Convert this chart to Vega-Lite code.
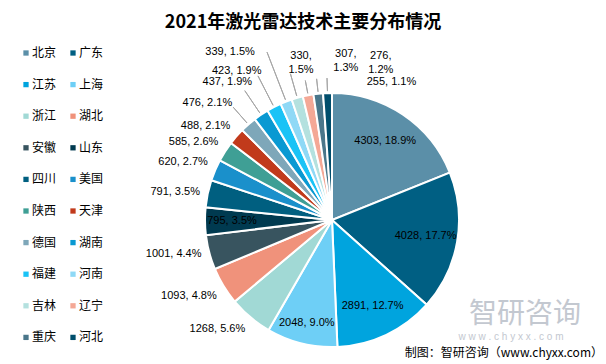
{
  "$schema": "https://vega.github.io/schema/vega-lite/v6.json",
  "width": 548,
  "height": 288,
  "autosize": {"type": "none"},
  "padding": {"left": 58, "top": 76, "right": 0, "bottom": 0},
  "background": "#ffffff",
  "title": {
    "text": "2021年激光雷达技术主要分布情况",
    "font": "Noto Sans CJK SC",
    "fontSize": 18,
    "fontWeight": "bold",
    "color": "#000000",
    "anchor": "middle",
    "frame": "group",
    "dx": -29,
    "offset": 4
  },
  "config": {"view": {"stroke": null}},
  "layer": [
    {
      "data": {
        "values": [
          {"name": "北京", "value": 4303, "label": "4303, 18.9%"},
          {"name": "广东", "value": 4028, "label": "4028, 17.7%"},
          {"name": "江苏", "value": 2891, "label": "2891, 12.7%"},
          {"name": "上海", "value": 2048, "label": "2048, 9.0%"},
          {"name": "浙江", "value": 1268, "label": "1268, 5.6%"},
          {"name": "湖北", "value": 1093, "label": "1093, 4.8%"},
          {"name": "安徽", "value": 1001, "label": "1001, 4.4%"},
          {"name": "山东", "value": 795, "label": "795, 3.5%"},
          {"name": "四川", "value": 791, "label": "791, 3.5%"},
          {"name": "美国", "value": 620, "label": "620, 2.7%"},
          {"name": "陕西", "value": 585, "label": "585, 2.6%"},
          {"name": "天津", "value": 488, "label": "488, 2.1%"},
          {"name": "德国", "value": 476, "label": "476, 2.1%"},
          {"name": "湖南", "value": 437, "label": "437, 1.9%"},
          {"name": "福建", "value": 423, "label": "423, 1.9%"},
          {"name": "河南", "value": 339, "label": "339, 1.5%"},
          {"name": "吉林", "value": 330, "label": "330, 1.5%"},
          {"name": "辽宁", "value": 307, "label": "307, 1.3%"},
          {"name": "重庆", "value": 276, "label": "276, 1.2%"},
          {"name": "河北", "value": 255, "label": "255, 1.1%"}
        ]
      },
      "encoding": {
        "theta": {"field": "value", "type": "quantitative", "stack": true},
        "order": {"field": "value", "type": "quantitative", "sort": "descending"},
        "detail": {"field": "name", "type": "nominal"}
      },
      "layer": [
        {
          "mark": {"type": "arc", "outerRadius": 127, "stroke": "#ffffff", "strokeWidth": 2},
          "encoding": {
            "color": {
              "field": "name",
              "type": "nominal",
              "scale": {
                "domain": ["北京","广东","江苏","上海","浙江","湖北","安徽","山东","四川","美国","陕西","天津","德国","湖南","福建","河南","吉林","辽宁","重庆","河北"],
                "range": ["#5B8FA8","#005F83","#00A4DE","#6ECFF6","#A1D9D5","#F0927B","#38545F","#003A50","#005F80","#1A90CB","#3F9F95","#C13A1B","#7EA7B9","#0999D2","#1AC3F6","#8FD9F6","#B4E1DF","#F4A896","#4A768A","#004E6C"]
              },
              "legend": {
                "title": null,
                "orient": "none",
                "legendX": -38,
                "legendY": -29,
                "direction": "horizontal",
                "columns": 2,
                "symbolType": "square",
                "symbolSize": 28,
                "symbolStrokeWidth": 0,
                "labelFont": "Noto Sans CJK SC",
                "labelFontSize": 12,
                "labelColor": "#000000",
                "labelOffset": 0,
                "rowPadding": 19.6,
                "columnPadding": 10,
                "padding": 0
              }
            }
          }
        },
        {
          "mark": {"type": "arc", "innerRadius": 129, "outerRadius": 150, "padAngle": 3, "fillOpacity": 0, "stroke": "#A6A6A6", "strokeWidth": 1},
          "encoding": {"strokeOpacity": {"condition": {"test": "datum.name === '德国'", "value": 1}, "value": 0}}
        },
        {
          "mark": {"type": "arc", "innerRadius": 129, "outerRadius": 156, "padAngle": 3, "fillOpacity": 0, "stroke": "#A6A6A6", "strokeWidth": 1},
          "encoding": {"strokeOpacity": {"condition": {"test": "datum.name === '湖南'", "value": 1}, "value": 0}}
        },
        {
          "mark": {"type": "arc", "innerRadius": 129, "outerRadius": 162, "padAngle": 3, "fillOpacity": 0, "stroke": "#A6A6A6", "strokeWidth": 1},
          "encoding": {"strokeOpacity": {"condition": {"test": "datum.name === '福建'", "value": 1}, "value": 0}}
        },
        {
          "mark": {"type": "arc", "innerRadius": 129, "outerRadius": 180, "padAngle": 3, "fillOpacity": 0, "stroke": "#A6A6A6", "strokeWidth": 1},
          "encoding": {"strokeOpacity": {"condition": {"test": "datum.name === '河南'", "value": 1}, "value": 0}}
        },
        {
          "mark": {"type": "arc", "innerRadius": 129, "outerRadius": 152, "padAngle": 3, "fillOpacity": 0, "stroke": "#A6A6A6", "strokeWidth": 1},
          "encoding": {"strokeOpacity": {"condition": {"test": "datum.name === '吉林'", "value": 1}, "value": 0}}
        },
        {
          "mark": {"type": "arc", "innerRadius": 129, "outerRadius": 142, "padAngle": 3, "fillOpacity": 0, "stroke": "#A6A6A6", "strokeWidth": 1},
          "encoding": {"strokeOpacity": {"condition": {"test": "indexof(['辽宁','重庆','河北'], datum.name) >= 0", "value": 1}, "value": 0}}
        },
        {
          "mark": {"type": "text", "radius": 95, "align": "center", "baseline": "middle", "font": "Liberation Sans", "fontSize": 11, "color": "#000000"},
          "encoding": {"text": {"condition": {"test": "indexof(['北京','广东','江苏'], datum.name) >= 0", "field": "label"}, "value": ""}}
        },
        {
          "mark": {"type": "text", "radius": 106, "align": "center", "baseline": "middle", "font": "Liberation Sans", "fontSize": 11, "color": "#000000"},
          "encoding": {"text": {"condition": {"test": "datum.name === '上海'", "field": "label"}, "value": ""}}
        },
        {
          "mark": {"type": "text", "radius": 100, "align": "center", "baseline": "middle", "font": "Liberation Sans", "fontSize": 11, "color": "#000000"},
          "encoding": {"text": {"condition": {"test": "datum.name === '山东'", "field": "label"}, "value": ""}}
        },
        {
          "mark": {"type": "text", "radius": 135, "align": "right", "baseline": "top", "font": "Liberation Sans", "fontSize": 11, "color": "#000000"},
          "encoding": {"text": {"condition": {"test": "indexof(['浙江','湖北'], datum.name) >= 0", "field": "label"}, "value": ""}}
        },
        {
          "mark": {"type": "text", "radius": 135, "align": "right", "baseline": "middle", "font": "Liberation Sans", "fontSize": 11, "color": "#000000"},
          "encoding": {"text": {"condition": {"test": "indexof(['安徽','四川'], datum.name) >= 0", "field": "label"}, "value": ""}}
        },
        {
          "mark": {"type": "text", "radius": 135, "align": "right", "baseline": "bottom", "font": "Liberation Sans", "fontSize": 11, "color": "#000000"},
          "encoding": {"text": {"condition": {"test": "indexof(['美国','陕西','天津'], datum.name) >= 0", "field": "label"}, "value": ""}}
        },
        {
          "mark": {"type": "text", "radius": 150, "align": "right", "baseline": "middle", "dx": -1, "dy": -4, "font": "Liberation Sans", "fontSize": 11, "color": "#000000"},
          "encoding": {"text": {"condition": {"test": "datum.name === '德国'", "field": "label"}, "value": ""}}
        },
        {
          "mark": {"type": "text", "radius": 150, "align": "right", "baseline": "middle", "dx": 4, "dy": -14, "font": "Liberation Sans", "fontSize": 11, "color": "#000000"},
          "encoding": {"text": {"condition": {"test": "datum.name === '湖南'", "field": "label"}, "value": ""}}
        },
        {
          "mark": {"type": "text", "radius": 150, "align": "right", "baseline": "middle", "dx": -2, "dy": -16, "font": "Liberation Sans", "fontSize": 11, "color": "#000000"},
          "encoding": {"text": {"condition": {"test": "datum.name === '福建'", "field": "label"}, "value": ""}}
        },
        {
          "mark": {"type": "text", "radius": 150, "align": "right", "baseline": "middle", "dx": -23, "dy": -28, "font": "Liberation Sans", "fontSize": 11, "color": "#000000"},
          "encoding": {"text": {"condition": {"test": "datum.name === '河南'", "field": "label"}, "value": ""}}
        },
        {
          "mark": {"type": "text", "radius": 150, "align": "center", "baseline": "middle", "dx": 10, "dy": -20, "lineBreak": " ", "lineHeight": 14.5, "font": "Liberation Sans", "fontSize": 11, "color": "#000000"},
          "encoding": {"text": {"condition": {"test": "datum.name === '吉林'", "field": "label"}, "value": ""}}
        },
        {
          "mark": {"type": "text", "radius": 150, "align": "center", "baseline": "middle", "dx": 42, "dy": -19, "lineBreak": " ", "lineHeight": 14.5, "font": "Liberation Sans", "fontSize": 11, "color": "#000000"},
          "encoding": {"text": {"condition": {"test": "datum.name === '辽宁'", "field": "label"}, "value": ""}}
        },
        {
          "mark": {"type": "text", "radius": 150, "align": "center", "baseline": "middle", "dx": 65, "dy": -15, "lineBreak": " ", "lineHeight": 14.5, "font": "Liberation Sans", "fontSize": 11, "color": "#000000"},
          "encoding": {"text": {"condition": {"test": "datum.name === '重庆'", "field": "label"}, "value": ""}}
        },
        {
          "mark": {"type": "text", "radius": 150, "align": "left", "baseline": "middle", "dx": 40, "dy": 12, "font": "Liberation Sans", "fontSize": 11, "color": "#000000"},
          "encoding": {"text": {"condition": {"test": "datum.name === '河北'", "field": "label"}, "value": ""}}
        }
      ]
    },
    {
      "data": {"values": [{"t": "智研咨询"}]},
      "mark": {"type": "text", "align": "left", "baseline": "middle", "dx": -137, "dy": -49, "font": "Noto Sans CJK SC", "fontSize": 28, "color": "#C3C8D0"},
      "encoding": {"text": {"field": "t", "type": "nominal"}, "x": {"value": "width"}, "y": {"value": "height"}}
    },
    {
      "data": {"values": [{"t": "w w w . c h y x x . c o m"}]},
      "mark": {"type": "text", "align": "center", "baseline": "middle", "dx": -95, "dy": -27, "font": "Liberation Sans", "fontSize": 10, "color": "#C3C8D0"},
      "encoding": {"text": {"field": "t", "type": "nominal"}, "x": {"value": "width"}, "y": {"value": "height"}}
    },
    {
      "data": {"values": [{"t": "制图：智研咨询（www.chyxx.com）"}]},
      "mark": {"type": "text", "align": "right", "baseline": "middle", "dx": -3, "dy": -11, "font": "Noto Sans CJK SC", "fontSize": 12, "color": "#000000"},
      "encoding": {"text": {"field": "t", "type": "nominal"}, "x": {"value": "width"}, "y": {"value": "height"}}
    }
  ]
}
